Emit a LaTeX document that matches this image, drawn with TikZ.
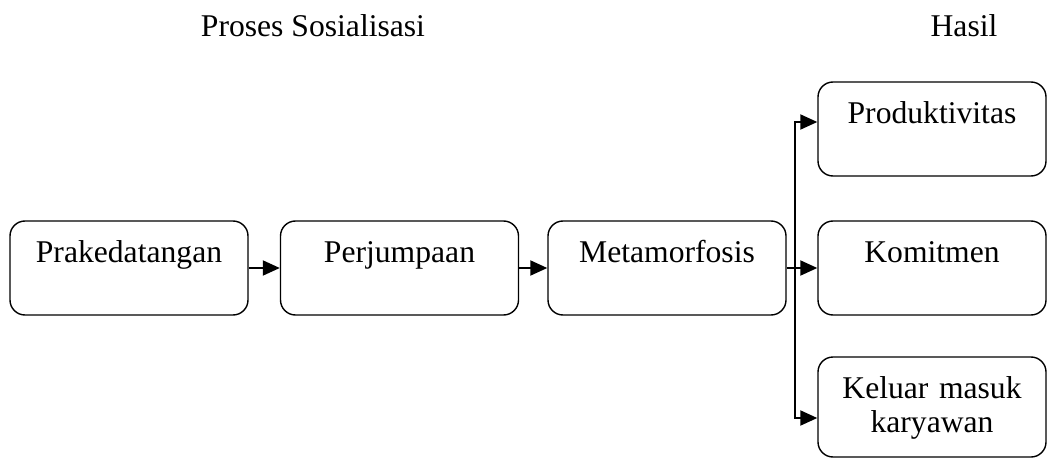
\documentclass[tikz,border=0pt]{standalone}
\usepackage{fontspec}
\setmainfont{Liberation Serif}
\usetikzlibrary{arrows.meta}
\usetikzlibrary{positioning}

\begin{document}
\begin{tikzpicture}[every node/.style={font=\fontsize{18}{19.5}\selectfont},
		tahap/.style={draw, line width=0.8pt, rounded corners=0.3cm, inner sep=0pt, align=center,
			text width=4.76cm, text height=0.82cm, text depth=1.06cm},
		hasil/.style={tahap, text width=4.56cm},
		panah/.style={line width=1.1pt, -{Triangle[length=0.34cm, width=0.3cm]}}]
				\useasboundingbox (0,0) rectangle (20.96,9.2);

				\node[anchor=base] (judulproses) at (6.26,8.46) {Proses Sosialisasi};
				\node[anchor=base] (judulhasil) at (19.28,8.46) {Hasil};

				\node[tahap] (pra) at (2.58,3.84) {Prakedatangan};
				\node[tahap] (jumpa) at (7.99,3.84) {Perjumpaan};
				\node[tahap] (meta) at (13.34,3.84) {Metamorfosis};

				\node[hasil] (prod) at (18.64,6.62) {Produktivitas};
				\node[hasil] (kom) at (18.64,3.84) {Komitmen};
				\node[hasil, text depth=1.18cm] (kel) at (18.64,1.06) {Keluar masuk\\karyawan};

				\draw[panah] (pra.east) -- (jumpa.west);
				\draw[panah] (jumpa.east) -- (meta.west);
				\draw[panah] (meta.east) -- (kom.west);

				\coordinate (cabang) at (15.9,3.84);
				\draw[panah] (cabang) |- ([yshift=0.14cm]prod.west);
				\draw[panah] (cabang) |- ([yshift=-0.22cm]kel.west);
			\end{tikzpicture}
\end{document}
